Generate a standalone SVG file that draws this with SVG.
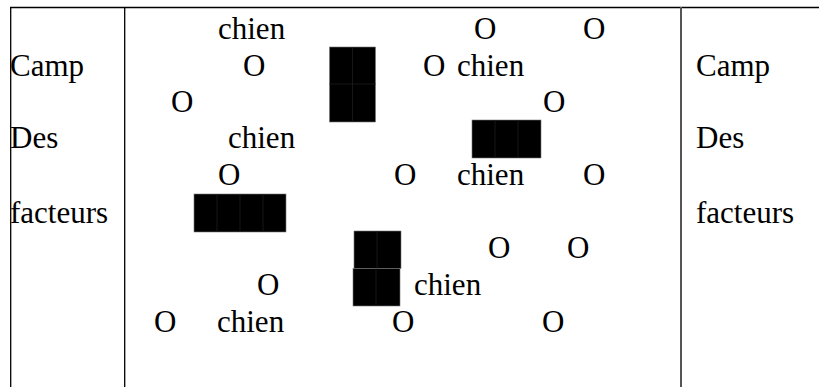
<svg xmlns="http://www.w3.org/2000/svg" width="819" height="387" viewBox="0 0 819 387">
  <style>
    text { font-family: "Liberation Serif", "Times New Roman", serif; font-size: 31px; fill: #000; }
    .rule { stroke: #000; stroke-width: 1.3; fill: none; }
    .rule-grey { stroke: #555; stroke-width: 2; fill: none; }
    .cell { fill: #000; stroke: #777; stroke-width: 0.6; }
    .seam { stroke: #1c1c1c; stroke-width: 0.8; }
  </style>
  <rect width="819" height="387" fill="#fff"/>

  <!-- table rules -->
  <g id="table">
    <line class="rule" x1="10" y1="7.5" x2="819" y2="7.5"/>
    <line class="rule" x1="10.7" y1="7" x2="10.7" y2="387"/>
    <line class="rule" x1="124.7" y1="7" x2="124.7" y2="387"/>
    <line class="rule-grey" x1="681" y1="7" x2="681" y2="387"/>
  </g>

  <!-- left side label -->
  <g id="camp-left">
    <text x="10" y="76">Camp</text>
    <text x="10" y="148">Des</text>
    <text x="10" y="223">facteurs</text>
  </g>

  <!-- right side label -->
  <g id="camp-right">
    <text x="696" y="76">Camp</text>
    <text x="696" y="148">Des</text>
    <text x="696" y="223">facteurs</text>
  </g>

  <!-- field: dogs and players -->
  <g id="field">
    <text x="218" y="39">chien</text>
    <text x="474" y="39">O</text>
    <text x="583" y="39">O</text>

    <text x="243" y="76">O</text>
    <text x="423" y="76">O</text>
    <text x="457" y="76">chien</text>

    <text x="171" y="112">O</text>
    <text x="543" y="112">O</text>

    <text x="228" y="148">chien</text>

    <text x="218" y="185">O</text>
    <text x="394" y="185">O</text>
    <text x="457" y="185">chien</text>
    <text x="583" y="185">O</text>

    <text x="488" y="258">O</text>
    <text x="567" y="258">O</text>

    <text x="257" y="295">O</text>
    <text x="414" y="295">chien</text>

    <text x="154" y="332">O</text>
    <text x="217" y="332">chien</text>
    <text x="392" y="332">O</text>
    <text x="542" y="332">O</text>
  </g>

  <!-- shaded blocks -->
  <g id="block-1">
    <rect class="cell" x="329.5" y="47" width="46" height="75"/>
    <line class="seam" x1="352.5" y1="47" x2="352.5" y2="122"/>
    <line class="seam" x1="329.5" y1="84" x2="375.5" y2="84"/>
  </g>
  <g id="block-2">
    <rect class="cell" x="472" y="120" width="69" height="38"/>
    <line class="seam" x1="495" y1="120" x2="495" y2="158"/>
    <line class="seam" x1="518" y1="120" x2="518" y2="158"/>
  </g>
  <g id="block-3">
    <rect class="cell" x="194" y="194" width="92" height="38"/>
    <line class="seam" x1="217" y1="194" x2="217" y2="232"/>
    <line class="seam" x1="240" y1="194" x2="240" y2="232"/>
    <line class="seam" x1="263" y1="194" x2="263" y2="232"/>
  </g>
  <g id="block-4">
    <rect class="cell" x="354" y="231" width="47" height="37.5"/>
    <line class="seam" x1="377" y1="231" x2="377" y2="268.5"/>
    <rect class="cell" x="353" y="268.5" width="47" height="37.5"/>
    <line class="seam" x1="376" y1="268.5" x2="376" y2="306"/>
  </g>
</svg>
